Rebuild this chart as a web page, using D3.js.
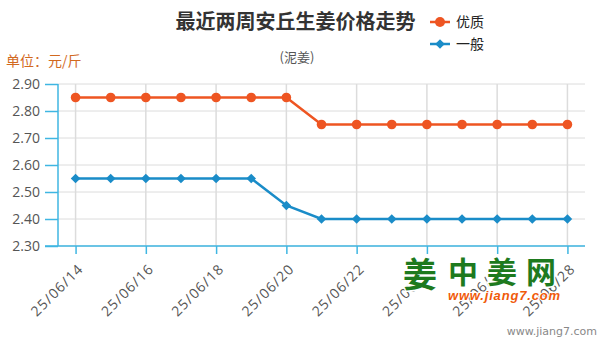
<!DOCTYPE html>
<html>
<head>
<meta charset="utf-8">
<script src="https://cdn.jsdelivr.net/npm/d3@7/dist/d3.min.js"></script>
<style>
  html, body { margin: 0; padding: 0; background: #fff; }
  svg { display: block; font-family: "Noto Sans CJK SC", "Noto Sans", sans-serif; }
</style>
</head>
<body>
<svg id="chart" width="600" height="341"></svg>
<script>
// Dates of the last two weeks (yy/mm/dd)
const dates = ["25/06/14","25/06/15","25/06/16","25/06/17","25/06/18","25/06/19","25/06/20",
               "25/06/21","25/06/22","25/06/23","25/06/24","25/06/25","25/06/26","25/06/27","25/06/28"];
// Price series, 元/斤
const premium = [2.85,2.85,2.85,2.85,2.85,2.85,2.85,2.75,2.75,2.75,2.75,2.75,2.75,2.75,2.75];
const ordinary = [2.55,2.55,2.55,2.55,2.55,2.55,2.45,2.40,2.40,2.40,2.40,2.40,2.40,2.40,2.40];
const yTicks = [2.30,2.40,2.50,2.60,2.70,2.80,2.90];
const xTickLabels = dates.filter((d, i) => i % 2 === 0);

const series = [
  { name: "优质", values: premium, color: "#ee5522", marker: "circle" },
  { name: "一般", values: ordinary, color: "#1a8cc8", marker: "diamond" }
];

const axisColor = "#3fb6e2";
const gridColor = "#dcdcdc";

const svg = d3.select("#chart");
const plotL = 58, plotR = 585, plotT = 84, plotB = 246;

const x = d3.scalePoint().domain(dates).range([plotL, plotR]).padding(0.5);
const y = d3.scaleLinear().domain([2.3, 2.9]).range([plotB, plotT]);

// diamond marker: a square turned 45 degrees
const diamondPath = d3.symbol().type(d3.symbolSquare).size(46)();

// horizontal grid
svg.append("g").selectAll("line").data(yTicks).join("line")
  .attr("x1", plotL).attr("x2", plotR)
  .attr("y1", d => y(d)).attr("y2", d => y(d))
  .attr("stroke", gridColor).attr("stroke-width", 1);

// vertical grid on labelled dates
svg.append("g").selectAll("line").data(xTickLabels).join("line")
  .attr("x1", d => x(d)).attr("x2", d => x(d))
  .attr("y1", plotT).attr("y2", plotB)
  .attr("stroke", gridColor).attr("stroke-width", 1.5);

// y axis
const yAxis = svg.append("g").attr("transform", `translate(${plotL},0)`)
  .call(d3.axisLeft(y).tickValues(yTicks).tickFormat(d3.format(".2f")).tickSize(13).tickPadding(5));
yAxis.select(".domain").attr("stroke", axisColor).attr("stroke-width", 1.5).attr("d", `M0,${plotT}V${plotB}`);
yAxis.selectAll(".tick line").attr("stroke", axisColor).attr("stroke-width", 1.5);
yAxis.selectAll(".tick text").attr("fill", "#555").style("font-size", "14px")
  .style("font-family", "'Open Sans', 'Noto Sans', sans-serif");

// x axis
const xAxis = svg.append("g").attr("transform", `translate(0,${plotB})`)
  .call(d3.axisBottom(x).tickValues(xTickLabels).tickSize(8).tickPadding(6));
xAxis.select(".domain").attr("stroke", axisColor).attr("stroke-width", 1.5).attr("d", `M${plotL - 13},0H${plotR}`);
xAxis.selectAll(".tick line").attr("stroke", axisColor).attr("stroke-width", 1.5);
xAxis.selectAll(".tick text")
  .attr("fill", "#555").style("font-size", "14px")
  .style("font-family", "'Open Sans', 'Noto Sans', sans-serif")
  .attr("text-anchor", "end")
  .attr("textLength", 66).attr("lengthAdjust", "spacing")
  .attr("transform", "translate(4,21) rotate(-45)")
  .attr("x", 0).attr("y", 0).attr("dy", "0.35em");

// series lines and markers
const line = d3.line().x((d, i) => x(dates[i])).y(d => y(d));

series.forEach(s => {
  const g = svg.append("g");
  g.append("path").datum(s.values)
    .attr("fill", "none").attr("stroke", s.color).attr("stroke-width", 2.5)
    .attr("d", line);
  if (s.marker === "circle") {
    g.selectAll("circle").data(s.values).join("circle")
      .attr("cx", (d, i) => x(dates[i])).attr("cy", d => y(d))
      .attr("r", 4.8).attr("fill", s.color);
  } else {
    g.selectAll("path.m").data(s.values).join("path").attr("class", "m")
      .attr("transform", (d, i) => `translate(${x(dates[i])},${y(d)}) rotate(45)`)
      .attr("d", diamondPath).attr("fill", s.color);
  }
});

// title & subtitle
svg.append("text").attr("x", 295.5).attr("y", 29).attr("text-anchor", "middle")
  .style("font-size", "20px").style("font-weight", "bold").attr("fill", "#333")
  .text("最近两周安丘生姜价格走势");
svg.append("text").attr("x", 297).attr("y", 62).attr("text-anchor", "middle")
  .style("font-size", "13px").attr("fill", "#555").text("(泥姜)");

// unit label
svg.append("text").attr("x", 6).attr("y", 66)
  .style("font-size", "14px").attr("fill", "#d2691e").text("单位：元/斤");

// legend
const legend = svg.append("g").attr("transform", "translate(430,0)");
series.forEach((s, i) => {
  const ly = 22 + i * 22;
  legend.append("line").attr("x1", 0).attr("x2", 20).attr("y1", ly).attr("y2", ly)
    .attr("stroke", s.color).attr("stroke-width", 2.5);
  if (s.marker === "circle") {
    legend.append("circle").attr("cx", 10).attr("cy", ly).attr("r", 5).attr("fill", s.color);
  } else {
    legend.append("path").attr("transform", `translate(10,${ly}) rotate(45)`)
      .attr("d", diamondPath).attr("fill", s.color);
  }
  legend.append("text").attr("x", 26).attr("y", ly).attr("dy", "0.35em")
    .style("font-size", "14px").attr("fill", "#222").text(s.name);
});

// site mark
const mark = svg.append("g");
mark.append("text").attr("x", 420).attr("y", 287).attr("text-anchor", "middle")
  .style("font-size", "34px").style("font-weight", "bold").attr("fill", "#1e7a1e")
  .attr("stroke", "#fff").attr("stroke-width", 3).attr("paint-order", "stroke")
  .text("姜");
mark.append("text").attr("x", 448).attr("y", 283)
  .style("font-size", "30px").style("font-weight", "bold").attr("fill", "#1e7a1e")
  .attr("stroke", "#fff").attr("stroke-width", 3).attr("paint-order", "stroke")
  .attr("textLength", 108)
  .text("中姜网");
mark.append("text").attr("x", 448).attr("y", 300)
  .style("font-size", "13px").style("font-weight", "bold").style("font-style", "italic")
  .style("font-family", "'Liberation Sans', Arial, sans-serif")
  .attr("fill", "#f05a0a").attr("stroke", "#fff").attr("stroke-width", 2).attr("paint-order", "stroke")
  .attr("textLength", 112)
  .text("www.jiang7.com");
svg.append("text").attr("x", 597).attr("y", 335).attr("text-anchor", "end")
  .style("font-size", "11px").style("font-family", "'DejaVu Sans', sans-serif")
  .attr("fill", "#888").text("www.jiang7.com");
</script>
</body>
</html>
